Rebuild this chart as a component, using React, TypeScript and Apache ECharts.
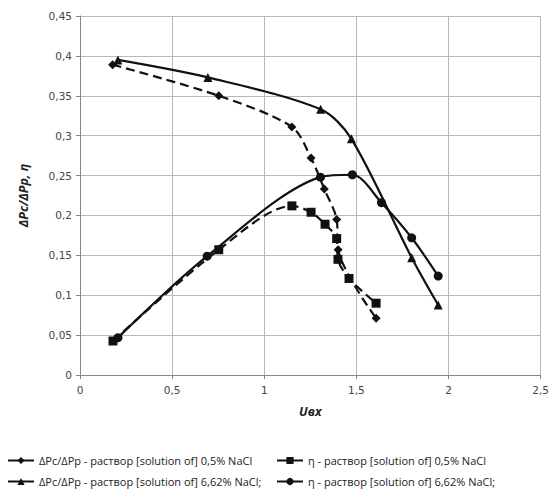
import React, { useEffect, useRef } from "react";
import * as echarts from "echarts";

const xTicks = [0, 0.5, 1, 1.5, 2, 2.5];
const yTicks = [0, 0.05, 0.1, 0.15, 0.2, 0.25, 0.3, 0.35, 0.4, 0.45];

const s1Name = "ΔPc/ΔPp - раствор [solution of] 0,5% NaCl";
const s1X = [0.177, 0.753, 1.15, 1.254, 1.326, 1.393, 1.401, 1.607];
const s1Y = [0.389, 0.35, 0.311, 0.272, 0.233, 0.195, 0.157, 0.071];

const s2Name = "η - раствор [solution of] 0,5% NaCl";
const s2X = [0.179, 0.753, 1.15, 1.254, 1.33, 1.393, 1.4, 1.46, 1.607];
const s2Y = [0.0426, 0.157, 0.212, 0.204, 0.189, 0.171, 0.145, 0.121, 0.09];

const s3Name = "ΔPc/ΔPp - раствор [solution of] 6,62% NaCl;";
const s3X = [0.206, 0.694, 1.306, 1.473, 1.8, 1.944];
const s3Y = [0.395, 0.373, 0.333, 0.296, 0.147, 0.0877];

const s4Name = "η - раствор [solution of] 6,62% NaCl;";
const s4X = [0.206, 0.69, 1.305, 1.478, 1.636, 1.8, 1.944];
const s4Y = [0.0468, 0.149, 0.248, 0.251, 0.216, 0.172, 0.124];

const zip = (xs: number[], ys: number[]) => xs.map((x, i) => [x, ys[i]]);
const fmt = (v: number) => String(v).replace(".", ",");

export default function App() {
  const ref = useRef<HTMLDivElement>(null);
  useEffect(() => {
    const chart = echarts.init(ref.current!, undefined, { renderer: "svg" });
    const black = "#111";
    const legendText = { fontFamily: "Open Sans", fontSize: 11, color: "#222" };
    const mkLegend = (name: string, left: number, top: number) => ({
      data: [name],
      left,
      top,
      padding: 0,
      itemWidth: 26,
      itemHeight: 9,
      itemGap: 4,
      textStyle: legendText,
      lineStyle: { type: "solid", width: 2, color: black },
      selectedMode: false,
    });
    const mkSeries = (name: string, xs: number[], ys: number[], symbol: string, size: number, dashed: boolean) => ({
      name,
      type: "line",
      data: zip(xs, ys),
      smooth: 0.3,
      symbol,
      symbolSize: size,
      lineStyle: { color: black, width: 2.2, type: dashed ? [9, 5] : "solid" },
      itemStyle: { color: black },
      z: 3,
    });
    chart.setOption({
      animation: false,
      backgroundColor: "#fff",
      grid: { left: 80, right: 8, top: 16, bottom: 115 },
      legend: [
        mkLegend(s1Name, 7, 455),
        mkLegend(s2Name, 276, 455),
        mkLegend(s3Name, 7, 476),
        mkLegend(s4Name, 276, 476),
      ],
      xAxis: {
        type: "value",
        min: 0,
        max: 2.5,
        interval: 0.5,
        name: "Uвх",
        nameLocation: "middle",
        nameGap: 30,
        nameTextStyle: { fontFamily: "Open Sans", fontSize: 12.5, fontWeight: "bold", fontStyle: "italic", color: "#222" },
        axisLine: { lineStyle: { color: "#888" } },
        axisTick: { show: true, length: 4, lineStyle: { color: "#888" } },
        axisLabel: { fontFamily: "DejaVu Sans", fontSize: 10.5, color: "#444", margin: 9, formatter: (v: number) => fmt(v) },
        splitLine: { show: true, lineStyle: { color: "#b8b8b8", width: 1 } },
      },
      yAxis: {
        type: "value",
        min: 0,
        max: 0.45,
        interval: 0.05,
        name: "ΔPc/ΔPp, η",
        nameLocation: "middle",
        nameGap: 50,
        nameRotate: 90,
        nameTextStyle: { fontFamily: "Open Sans", fontSize: 12.5, fontWeight: "bold", fontStyle: "italic", color: "#222" },
        axisLine: { show: true, lineStyle: { color: "#888" } },
        axisTick: { show: true, length: 4, lineStyle: { color: "#888" } },
        axisLabel: {
          fontFamily: "DejaVu Sans",
          fontSize: 10.5,
          color: "#444",
          margin: 8,
          formatter: (v: number) => fmt(Math.round(v * 100) / 100),
        },
        splitLine: { show: true, lineStyle: { color: "#b8b8b8", width: 1 } },
      },
      series: [
        mkSeries(s1Name, s1X, s1Y, "diamond", 9, true),
        mkSeries(s2Name, s2X, s2Y, "rect", 9, true),
        mkSeries(s3Name, s3X, s3Y, "triangle", 9, false),
        mkSeries(s4Name, s4X, s4Y, "circle", 9, false),
      ],
    });
    return () => chart.dispose();
  }, []);
  return <div ref={ref} style={{ position: "absolute", left: 0, top: 0, width: 552, height: 490 }} />;
}
